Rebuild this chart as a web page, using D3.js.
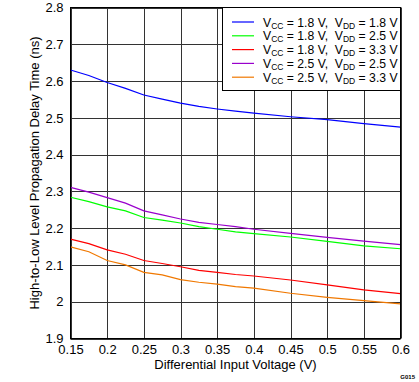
<!DOCTYPE html>
<html><head><meta charset="utf-8">
<script src="https://cdn.jsdelivr.net/npm/d3@7"></script>
<style>
body{margin:0;background:#fff;}
text{font-family:"Liberation Sans",Arial,sans-serif;}
</style></head>
<body><svg id="c" width="419" height="382"></svg>
<script>
const xVals = [0.15,0.175,0.2,0.225,0.25,0.275,0.3,0.325,0.35,0.375,0.4,0.45,0.5,0.55,0.6];
const blue   = [2.630,2.615,2.596,2.580,2.562,2.551,2.540,2.531,2.524,2.518,2.513,2.503,2.495,2.484,2.475];
const green  = [2.284,2.272,2.258,2.247,2.229,2.222,2.214,2.204,2.197,2.190,2.185,2.176,2.164,2.152,2.144];
const red    = [2.170,2.158,2.141,2.129,2.112,2.104,2.095,2.085,2.080,2.074,2.070,2.059,2.046,2.032,2.022];
const purple = [2.311,2.298,2.283,2.268,2.247,2.236,2.225,2.216,2.210,2.204,2.197,2.186,2.175,2.165,2.155];
const orange = [2.149,2.136,2.112,2.100,2.080,2.073,2.060,2.053,2.048,2.041,2.037,2.023,2.012,2.003,1.994];
const xTicks = [0.15,0.2,0.25,0.3,0.35,0.4,0.45,0.5,0.55,0.6];
const yTicks = [1.9,2,2.1,2.2,2.3,2.4,2.5,2.6,2.7,2.8];
const seriesNames = [
  ["1.8","1.8"],["1.8","2.5"],["1.8","3.3"],["2.5","2.5"],["2.5","3.3"]
];
const seriesData = [blue, green, red, purple, orange];
const colors = ["#0000ff","#00ff00","#ff0000","#9900cc","#f07800"];

const L=70.5, R=400.5, T=7.5, B=338.5;
const svg = d3.select("#c");
const x = d3.scaleLinear().domain([0.15,0.6]).range([L,R]);
const y = d3.scaleLinear().domain([1.9,2.8]).range([B,T]);

// grid
const g = svg.append("g");
g.selectAll(".vx").data(xTicks).enter().append("line")
  .attr("x1",d=>Math.round(x(d))+0.5).attr("x2",d=>Math.round(x(d))+0.5)
  .attr("y1",T).attr("y2",B).attr("stroke","#333").attr("stroke-width",1);
g.selectAll(".hy").data(yTicks).enter().append("line")
  .attr("y1",d=>Math.round(y(d))+0.5).attr("y2",d=>Math.round(y(d))+0.5)
  .attr("x1",L).attr("x2",R).attr("stroke","#333").attr("stroke-width",1);

// series
const line = d3.line().x((d,i)=>x(xVals[i])).y(d=>y(d));
seriesData.forEach((s,i)=>{
  svg.append("path").datum(s).attr("d",line).attr("fill","none")
    .attr("stroke",colors[i]).attr("stroke-width",1.2);
});

// frame
svg.append("rect").attr("x",L).attr("y",T).attr("width",R-L).attr("height",B-T)
  .attr("fill","none").attr("stroke","#000").attr("stroke-width",1);

// axes labels
const xa = svg.append("g").attr("transform",`translate(0,${B})`)
  .call(d3.axisBottom(x).tickValues(xTicks).tickSize(0).tickPadding(6).tickFormat(d=>String(d)));
xa.select(".domain").remove();
xa.selectAll("text").attr("font-size",13).attr("fill","#000").attr("font-family","Liberation Sans, Arial, sans-serif");
const ya = svg.append("g").attr("transform",`translate(${L},0)`)
  .call(d3.axisLeft(y).tickValues(yTicks).tickSize(0).tickPadding(7).tickFormat(d=>String(+d.toFixed(1))));
ya.select(".domain").remove();
ya.selectAll("text").attr("font-size",13).attr("fill","#000").attr("font-family","Liberation Sans, Arial, sans-serif");

svg.append("text").attr("x",(L+R)/2).attr("y",369).attr("text-anchor","middle")
  .attr("font-size",13).text("Differential Input Voltage (V)");
svg.append("text").attr("transform",`translate(39,${(T+B)/2}) rotate(-90)`)
  .attr("text-anchor","middle").attr("font-size",13)
  .text("High-to-Low Level Propagation Delay Time (ns)");
svg.append("text").attr("x",415).attr("y",379).attr("text-anchor","end")
  .attr("font-size",6).attr("font-weight","bold").text("G015");

// legend
const lg = svg.append("g");
lg.append("rect").attr("x",222.5).attr("y",T).attr("width",R-222.5).attr("height",83)
  .attr("fill","#fff").attr("stroke","#000").attr("stroke-width",1);
seriesNames.forEach((n,i)=>{
  const yy = 22 + i*13.8;
  lg.append("line").attr("x1",232).attr("x2",254).attr("y1",yy).attr("y2",yy)
    .attr("stroke",colors[i]).attr("stroke-width",1.2);
  const t = lg.append("text").attr("x",263).attr("y",yy+4.5).attr("font-size",12.2);
  t.append("tspan").text("V");
  t.append("tspan").attr("font-size",8.5).attr("dy",2).text("CC");
  t.append("tspan").attr("dy",-2).text(" = "+n[0]+" V,\u00a0 V");
  t.append("tspan").attr("font-size",8.5).attr("dy",2).text("DD");
  t.append("tspan").attr("dy",-2).text(" = "+n[1]+" V");
});
</script></body></html>
